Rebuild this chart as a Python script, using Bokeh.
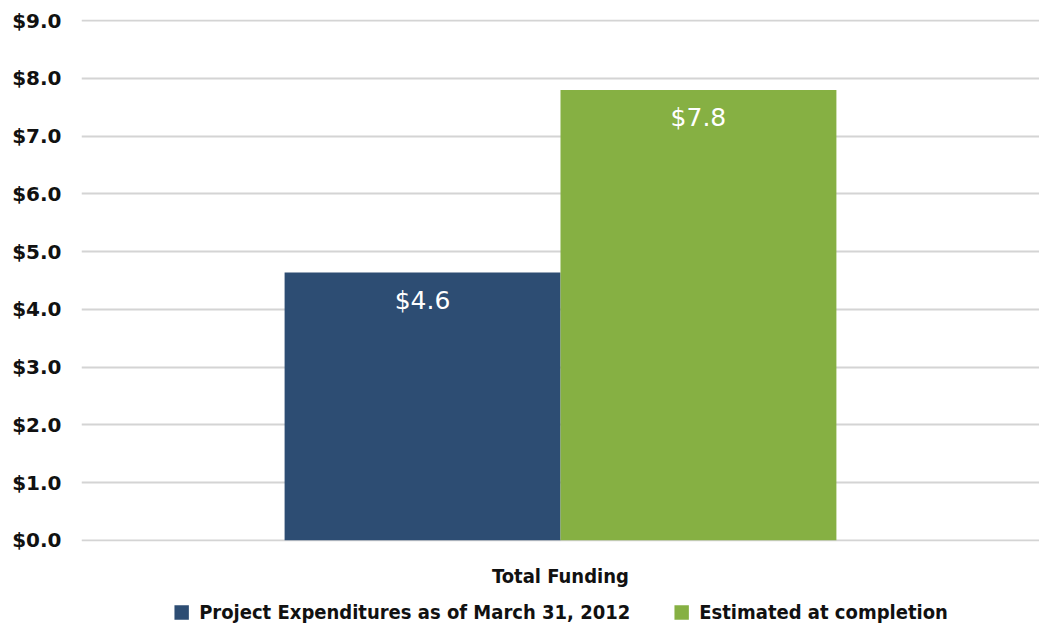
from bokeh.plotting import figure
from bokeh.models import (ColumnDataSource, FactorRange, NumeralTickFormatter, FixedTicker,
                          LabelSet, Legend, LegendItem, Range1d)
from bokeh.layouts import column
from bokeh.core.properties import value
from bokeh.transform import dodge
from bokeh.embed import file_html
from bokeh.resources import INLINE

categories = ["Total Funding"]
series_names = ["Project Expenditures as of March 31, 2012", "Estimated at completion"]
expenditures = [4.64]
estimated = [7.8]
y_ticks = [0, 1, 2, 3, 4, 5, 6, 7, 8, 9]

colors = ["#2d4d73", "#86b043"]
FONT = "DejaVu Sans Condensed"

src = ColumnDataSource(dict(
    cat=categories,
    exp=expenditures,
    est=estimated,
    exp_lbl=[f"${v:.1f}" for v in expenditures],
    est_lbl=[f"${v:.1f}" for v in estimated],
))

p = figure(x_range=FactorRange(*categories), y_range=(-0.02, 9.02),
           frame_width=958, frame_height=522,
           output_backend="svg", toolbar_location=None,
           min_border_left=81, min_border_right=0, min_border_top=19, min_border_bottom=0)

bw = 0.288
r1 = p.vbar(x=dodge("cat", -bw / 2, range=p.x_range), top="exp", width=bw, source=src,
            fill_color=colors[0], line_color=None)
r2 = p.vbar(x=dodge("cat", bw / 2, range=p.x_range), top="est", width=bw, source=src,
            fill_color=colors[1], line_color=None)

for col, off, top in (("exp_lbl", -bw / 2, "exp"), ("est_lbl", bw / 2, "est")):
    p.add_layout(LabelSet(x=dodge("cat", off, range=p.x_range), y=top, text=col, source=src,
                          y_offset=-28, text_align="center", text_baseline="middle",
                          text_color="white", text_font_size=value("25px"),
                          text_font=value("DejaVu Sans")))

p.yaxis.ticker = FixedTicker(ticks=y_ticks)
p.yaxis.formatter = NumeralTickFormatter(format="$0.0")
p.yaxis.axis_line_color = None
p.yaxis.major_tick_line_color = None
p.yaxis.minor_tick_line_color = None
p.yaxis.major_label_standoff = 14
p.yaxis.major_label_text_font_size = "20px"
p.yaxis.major_label_text_font_style = "bold"
p.yaxis.major_label_text_font = "DejaVu Sans"
p.yaxis.major_label_text_color = "#111111"

p.xaxis.axis_line_color = None
p.xaxis.major_tick_line_color = None
p.xaxis.minor_tick_line_color = None
p.xaxis.major_tick_out = 0
p.xaxis.major_tick_in = 0
p.xaxis.major_label_standoff = 22
p.xaxis.major_label_text_font_size = "20px"
p.xaxis.major_label_text_font_style = "bold"
p.xaxis.major_label_text_font = FONT
p.xaxis.major_label_text_color = "#111111"

p.xgrid.grid_line_color = None
p.ygrid.grid_line_color = "#d4d4d4"
p.ygrid.grid_line_width = 2
p.outline_line_color = None

# separate strip that carries the legend (its bars fall outside its y-range)
leg = figure(x_range=p.x_range, y_range=Range1d(100, 101),
             frame_width=958, frame_height=44,
             output_backend="svg", toolbar_location=None,
             min_border_left=81, min_border_right=0, min_border_top=0, min_border_bottom=0)
leg.axis.visible = False
leg.grid.visible = False
leg.outline_line_color = None
l1 = leg.vbar(x="cat", top="exp", width=bw, source=src, fill_color=colors[0], line_color=None)
l2 = leg.vbar(x="cat", top="est", width=bw, source=src, fill_color=colors[1], line_color=None)

legend = Legend(items=[LegendItem(label=series_names[0], renderers=[l1]),
                       LegendItem(label=series_names[1], renderers=[l2])],
                orientation="horizontal", location="center",
                border_line_color=None, background_fill_alpha=0,
                glyph_width=18, glyph_height=18, spacing=42, label_standoff=9,
                label_text_font_size="20px", label_text_font_style="bold",
                label_text_font=FONT, label_text_color="#111111",
                padding=0, margin=0)
leg.add_layout(legend, "center")

layout = column(p, leg, spacing=0)
open("out.html", "w").write(file_html(layout, INLINE))
